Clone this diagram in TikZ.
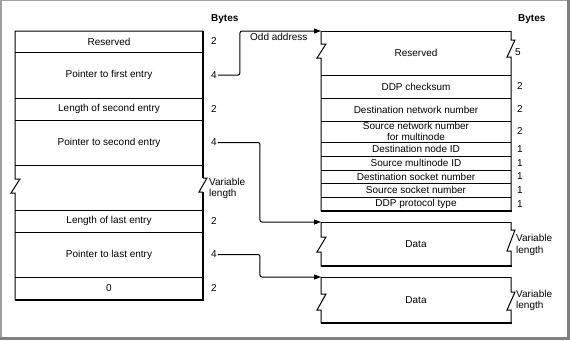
\documentclass[tikz,border=0pt]{standalone}
\usepackage{fontspec}
\setmainfont{Liberation Sans}
\usetikzlibrary{arrows.meta}
\definecolor{framegray}{RGB}{128,128,128}
\definecolor{framelight}{RGB}{160,160,160}
\begin{document}
\begin{tikzpicture}[x=1pt,y=-1pt,
  lbl/.style={font=\fontsize{10}{11}\selectfont, inner sep=0pt, align=center},
  num/.style={font=\fontsize{10}{11}\selectfont, inner sep=1pt, anchor=west},
  varlen/.style={font=\fontsize{10}{11.5}\selectfont, inner sep=0pt, anchor=west, align=left},
  hdr/.style={font=\bfseries\fontsize{10}{11}\selectfont, inner sep=0pt, anchor=west},
  boxline/.style={line width=1pt},
  boldline/.style={line width=2pt},
  conn/.style={line width=1pt, rounded corners=2pt, -{Triangle[length=7pt,width=5pt]}}
]
\useasboundingbox (0,0) rectangle (570,340);
% outer frame
\fill[framelight] (0,0) rectangle (2,340);
\fill[framelight] (0,0) rectangle (570,1.2);
\fill[framegray] (567,0) rectangle (570,340);
\fill[framegray] (0,337) rectangle (570,340);

% ---------- left box ----------
\draw[boxline] (203,31) -- (15,31) -- (15,179) -- (20,179) -- (11,193) -- (15,193) -- (15,300);
\draw[boldline] (203,30.5) -- (203,178);
\draw[boxline] (203,178) -- (207,178) -- (199,192) -- (203,192);
\draw[boldline] (203,192) -- (203,301);
\draw[boldline] (14.5,300) -- (204,300);
\foreach \yy in {52,98,120,165,210,232,277} \draw[boxline] (15,\yy) -- (203,\yy);

\node[lbl] (lres) at (109,41.5) {Reserved};
\node[lbl] (lptr1) at (109,75) {Pointer to first entry};
\node[lbl] (llen2) at (109,109) {Length of second entry};
\node[lbl] (lptr2) at (109,142.5) {Pointer to second entry};
\node[lbl] (llenl) at (109,221) {Length of last entry};
\node[lbl] (lptrl) at (109,254.5) {Pointer to last entry};
\node[lbl] (lzero) at (109,288.5) {0};

\node[hdr] (bytesl) at (211,19) {Bytes};
\node[num] (na) at (210,41.5) {2};
\node[num] (nb) at (210,75) {4};
\node[num] (nc) at (210,109) {2};
\node[num] (nd) at (210,142.5) {4};
\node[varlen] (nv) at (209,188.5) {Variable\\length};
\node[num] (ne) at (210,221) {2};
\node[num] (nf) at (210,254.5) {4};
\node[num] (ng) at (210,288.5) {2};

% ---------- right header box ----------
\coordinate (rtop) at (321,31);
\coordinate (d1top) at (321,222);
\coordinate (d2top) at (321,277);
\draw[boxline] (rtop) -- (511,31);
\draw[boxline] (rtop) -- (321,44) -- (326,44) -- (317,58) -- (321,58) -- (321,211);
\draw[boxline] (511,31) -- (511,40) -- (515,40) -- (507,57) -- (511,57) -- (511,211);
\draw[boldline] (320.5,211) -- (512,211);
\foreach \yy in {75,98,121,142,156,170,183,197} \draw[boxline] (321,\yy) -- (511,\yy);

\node[lbl] (rres) at (416,53) {Reserved};
\node[lbl] (rchk) at (416,86.5) {DDP checksum};
\node[lbl] (rdnn) at (416,109.5) {Destination network number};
\node[lbl] (rsnn) at (416,131.5) {Source network number\\for multinode};
\node[lbl] (rdid) at (416,149) {Destination node ID};
\node[lbl] (rsid) at (416,163) {Source multinode ID};
\node[lbl] (rdsk) at (416,176.5) {Destination socket number};
\node[lbl] (rssk) at (416,190) {Source socket number};
\node[lbl] (rtyp) at (416,204) {DDP protocol type};

\node[hdr] (bytesr) at (518,19) {Bytes};
\node[num] (ra) at (514,52) {5};
\node[num] (rb) at (516,86.5) {2};
\node[num] (rc) at (516,109.5) {2};
\node[num] (rd) at (516,131.5) {2};
\node[num] (re) at (516,149) {1};
\node[num] (rf) at (516,163) {1};
\node[num] (rg) at (516,176.5) {1};
\node[num] (rh) at (516,190) {1};
\node[num] (ri) at (516,204) {1};

% ---------- data boxes ----------
\draw[boxline] (d1top) -- (511,222);
\draw[boxline] (d1top) -- (321,237) -- (326,237) -- (317,252) -- (321,252) -- (321,266);
\draw[boxline] (511,222) -- (511,230) -- (515,230) -- (507,251) -- (511,251) -- (511,266);
\draw[boldline] (320.5,266) -- (512,266);
\node[lbl] (data1) at (416,244) {Data};
\node[varlen] (v1) at (516,245) {Variable\\length};

\draw[boxline] (d2top) -- (511,277);
\draw[boxline] (d2top) -- (321,294) -- (326,294) -- (317,310) -- (321,310) -- (321,323);
\draw[boxline] (511,277) -- (511,292) -- (515,292) -- (507,310) -- (511,310) -- (511,323);
\draw[boldline] (320.5,323) -- (512,323);
\node[lbl] (data2) at (416,300) {Data};
\node[varlen] (v2) at (516,300.5) {Variable\\length};

% ---------- connectors ----------
\node[lbl, anchor=west] (odd) at (250,37) {Odd address};
\draw[conn] (nb.east) -- ++(22,0) |- (rtop);
\draw[conn] (nd.east) -- ++(42,0) |- (d1top);
\draw[conn] (nf.east) -- ++(42,0) |- (d2top);
\end{tikzpicture}
\end{document}
